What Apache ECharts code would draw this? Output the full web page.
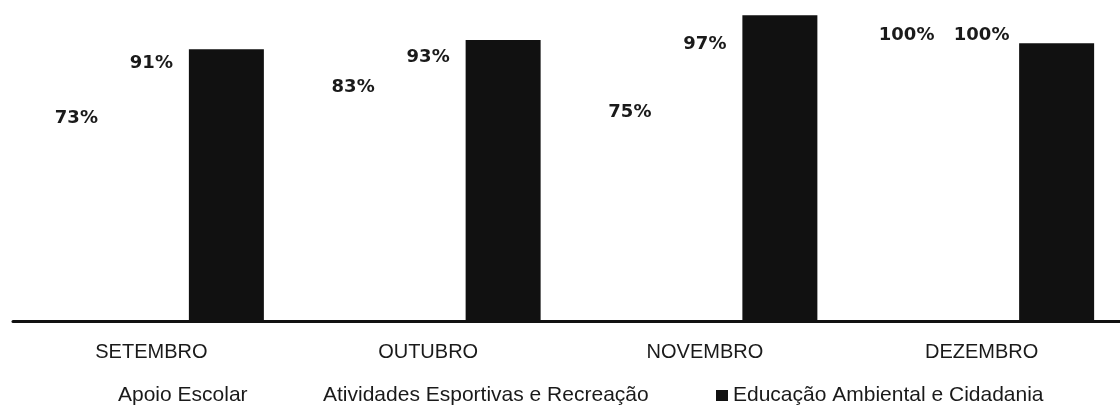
<!DOCTYPE html>
<html>
<head>
<meta charset="utf-8">
<script src="https://cdn.jsdelivr.net/npm/echarts@6/dist/echarts.min.js"></script>
<style>
html,body{margin:0;padding:0;background:#fff;}
#chart{width:1120px;height:408px;}
</style>
</head>
<body>
<div id="chart"></div>
<script>
var categories = ['SETEMBRO', 'OUTUBRO', 'NOVEMBRO', 'DEZEMBRO'];
var seriesNames = ['Apoio Escolar', 'Atividades Esportivas e Recreação', 'Educação Ambiental e Cidadania'];
var apoioEscolar = [73, 83, 75, 100];
var atividadesEsportivas = [91, 93, 97, 100];
var educacaoAmbiental = [100, 103, 111, 102];

var chart = echarts.init(document.getElementById('chart'), null, {renderer: 'canvas'});

var labelStyle = {
  show: true,
  position: 'top',
  distance: 5,
  formatter: '{c}%',
  fontFamily: 'DejaVu Sans',
  fontWeight: 'bold',
  fontSize: 18,
  color: '#1a1a1a'
};

function legendAt(name, left, iconColor) {
  return {
    data: [{name: name, icon: 'rect', itemStyle: {color: iconColor}}],
    left: left,
    top: 380,
    itemWidth: 12,
    itemHeight: 11,
    itemGap: 5,
    selectedMode: false,
    textStyle: {fontFamily: 'Liberation Sans', fontSize: 21, color: '#1a1a1a'}
  };
}

chart.setOption({
  animation: false,
  backgroundColor: '#ffffff',
  grid: {left: 13, width: 1114, top: 3, bottom: 87, containLabel: false},
  legend: [
    legendAt(seriesNames[0], 96, '#ffffff'),
    legendAt(seriesNames[1], 301, '#ffffff'),
    legendAt(seriesNames[2], 711, '#111111')
  ],
  xAxis: {
    type: 'category',
    data: categories,
    z: 10,
    axisLine: {show: true, lineStyle: {color: '#111', width: 3}},
    axisTick: {show: false},
    axisLabel: {fontFamily: 'Liberation Sans', fontSize: 20, color: '#1a1a1a', margin: 21}
  },
  yAxis: {
    type: 'value',
    min: 12,
    max: 115,
    show: false,
    splitLine: {show: false}
  },
  series: [
    {name: seriesNames[0], type: 'bar', data: apoioEscolar, barWidth: 75, barGap: '0%',
     itemStyle: {color: '#ffffff'}, label: labelStyle},
    {name: seriesNames[1], type: 'bar', data: atividadesEsportivas, barWidth: 75, barGap: '0%',
     itemStyle: {color: '#ffffff'}, label: labelStyle},
    {name: seriesNames[2], type: 'bar', data: educacaoAmbiental, barWidth: 75, barGap: '0%',
     itemStyle: {color: '#111111'}, label: {show: false}}
  ]
});
</script>
</body>
</html>
